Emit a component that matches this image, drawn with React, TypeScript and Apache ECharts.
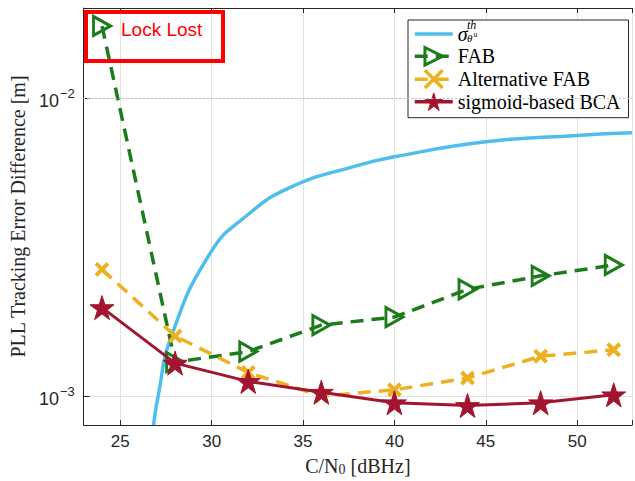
import React, { useEffect, useRef } from 'react';
import * as echarts from 'echarts';

// ---- data ----
const cn0 = [24, 28, 32, 36, 40, 44, 48, 52];
const fabValues = [0.0174, 0.0013, 0.00141, 0.00173, 0.00184, 0.00228, 0.00253, 0.00275];
const altFabValues = [0.00266, 0.00159, 0.0012, 0.001, 0.00105, 0.00115, 0.00136, 0.00143];
const bcaValues = [0.00198, 0.00129, 0.00112, 0.00103, 0.00095, 0.00093, 0.00095, 0.00101];
const sigmaCn0 = [26.82, 27.07, 27.8, 29.93, 31.86, 34.28, 38.06, 40.0, 45.0, 50.0, 53.0];
const sigmaValues = [0.0008, 0.001, 0.00159, 0.00302, 0.004, 0.005, 0.00595, 0.00634, 0.00712, 0.00748, 0.00763];
const minorGridValues = [0.0009, 0.002, 0.003, 0.004, 0.005, 0.006, 0.007, 0.008, 0.009];
const seriesNames = ['σ', 'FAB', 'Alternative FAB', 'sigmoid-based BCA'];
const xAxisTitle = 'C/N';
const yAxisTitle = 'PLL Tracking Error Difference [m]';
const annotationText = 'Lock Lost';

const BLUE = '#4DBEEE';
const GREEN = '#1C7C1C';
const YELLOW = '#EDB120';
const RED = '#A2142F';
const AXIS = '#262626';

const STAR = 'path://M50,0 L61.2,34.5 L97.6,34.5 L68.2,55.9 L79.4,90.5 L50,69.1 L20.6,90.5 L31.8,55.9 L2.4,34.5 L38.8,34.5 Z';
const TRI = 'path://M0,0 L18,10 L0,20 Z';
const CROSS = 'path://M0,0 L10,10 M10,0 L0,10';

function isPow10(v: number) {
  const l = Math.log10(v);
  return Math.abs(l - Math.round(l)) < 1e-6;
}

export default function App() {
  const ref = useRef<HTMLDivElement>(null);
  useEffect(() => {
    if (!ref.current) return;
    const chart = echarts.init(ref.current, undefined, { renderer: 'svg' });
    const option: any = {
      animation: false,
      grid: { left: 81, top: 8, width: 557, height: 417 },
      xAxis: [
        {
          type: 'value', min: 23, max: 53, splitNumber: 6, position: 'bottom',
          axisLine: { onZero: false, lineStyle: { color: AXIS, width: 1 } },
          axisTick: { inside: true, length: 5, lineStyle: { color: AXIS } },
          axisLabel: {
            formatter: (v: number) => (v % 5 === 0 ? String(v) : ''),
            fontFamily: 'Liberation Sans', fontSize: 17, color: AXIS, margin: 8,
          },
          splitLine: { show: true, lineStyle: { color: '#e2e2e2', width: 1 } },
          name: `{a|${xAxisTitle}}{s|0}{a| [dBHz]}`,
          nameLocation: 'middle', nameGap: 30,
          nameTextStyle: {
            rich: {
              a: { fontFamily: 'Liberation Serif', fontSize: 20, color: AXIS },
              s: { fontFamily: 'Liberation Serif', fontSize: 14, color: AXIS, padding: [7, 0, 0, 0] },
            },
          },
        },
        {
          type: 'value', min: 23, max: 53, splitNumber: 6, position: 'top',
          axisLine: { onZero: false, lineStyle: { color: AXIS, width: 1 } },
          axisTick: { inside: true, length: 5, lineStyle: { color: AXIS } },
          axisLabel: { show: false },
          splitLine: { show: false },
        },
      ],
      yAxis: {
        type: 'log', logBase: 10, min: 0.0008, max: 0.02,
        axisLine: { show: true, onZero: false, lineStyle: { color: AXIS, width: 1 } },
        axisTick: { inside: true, length: 6, lineStyle: { color: AXIS } },
        axisLabel: {
          formatter: (v: number) => (isPow10(v) ? `{b|10}{s|−${Math.round(-Math.log10(v))}}` : ''),
          margin: 9,
          rich: {
            b: { fontFamily: 'Liberation Sans', fontSize: 18, color: AXIS, padding: [6, 0, 0, 0] },
            s: { fontFamily: 'Liberation Sans', fontSize: 13, color: AXIS, padding: [0, 0, 9, 1] },
          },
        },
        splitLine: { show: true, lineStyle: { color: '#e2e2e2', width: 1 } },
        name: yAxisTitle, nameLocation: 'middle', nameGap: 54,
        nameTextStyle: { fontFamily: 'Liberation Serif', fontSize: 20, color: AXIS },
      },
      legend: {
        data: [
          { name: seriesNames[0] },
          { name: seriesNames[1], itemStyle: { borderWidth: 3 } },
          { name: seriesNames[2], itemStyle: { borderWidth: 3.5 } },
          { name: seriesNames[3], itemStyle: { borderWidth: 1 } },
        ],
        orient: 'vertical', left: 408, top: 20,
        itemWidth: 38, itemHeight: 22, itemGap: 2,
        padding: [4, 8, 6, 5],
        backgroundColor: '#fff', borderColor: AXIS, borderWidth: 1,
        selectedMode: false,
        lineStyle: { width: 3.5 },
        textStyle: {
          fontFamily: 'Liberation Serif', fontSize: 20, color: '#000', lineHeight: 20,
          rich: { sig: { fontFamily: 'Liberation Serif', fontStyle: 'italic', fontSize: 20, color: '#000' } },
        },
        formatter: (n: string) => (n === 'σ' ? '{sig|σ}' : n),
      },
      graphic: [
        { type: 'rect', shape: { x: 86, y: 12, width: 137, height: 49 }, style: { fill: 'none', stroke: '#ff0000', lineWidth: 4 }, z: 1 },
        { type: 'text', x: 121, y: 29, style: { text: annotationText, fill: '#ff0000', fontFamily: 'Liberation Sans', fontSize: 19, verticalAlign: 'middle' }, z: 1 },
        { type: 'text', x: 467, y: 24.5, style: { text: 'th', fill: '#000', fontFamily: 'Liberation Serif', fontStyle: 'italic', fontSize: 12, verticalAlign: 'middle' }, z: 100 },
        { type: 'text', x: 467, y: 37.5, style: { text: 'θ', fill: '#000', fontFamily: 'Liberation Serif', fontStyle: 'italic', fontSize: 11, verticalAlign: 'middle' }, z: 100 },
        { type: 'text', x: 473.5, y: 34.5, style: { text: 'u', fill: '#000', fontFamily: 'Liberation Serif', fontStyle: 'italic', fontSize: 8, verticalAlign: 'middle' }, z: 100 },
      ],
      series: [
        {
          name: seriesNames[0], type: 'line',
          data: sigmaCn0.map((x, i) => [x, sigmaValues[i]]),
          showSymbol: false, symbol: 'circle',
          smooth: 0.5,
          itemStyle: { color: 'rgba(0,0,0,0)', borderColor: 'rgba(0,0,0,0)' },
          lineStyle: { color: BLUE, width: 3.5 },
          markLine: {
            silent: true, symbol: ['none', 'none'], label: { show: false },
            lineStyle: { color: '#bdbdbd', width: 1, type: [1, 3] },
            data: minorGridValues.map((v) => ({ yAxis: v })),
          },
          z: 2,
        },
        {
          name: seriesNames[1], type: 'line',
          data: cn0.map((x, i) => [x, fabValues[i]]),
          symbol: TRI, symbolSize: [17, 19],
          itemStyle: { color: 'rgba(0,0,0,0)', borderColor: GREEN, borderWidth: 3 },
          lineStyle: { color: GREEN, width: 3.5, type: [13, 8] },
          z: 3,
        },
        {
          name: seriesNames[2], type: 'line',
          data: cn0.map((x, i) => [x, altFabValues[i]]),
          symbol: CROSS, symbolSize: 12,
          itemStyle: { color: YELLOW, borderColor: YELLOW, borderWidth: 4 },
          lineStyle: { color: YELLOW, width: 3.5, type: [13, 8] },
          z: 4,
        },
        {
          name: seriesNames[3], type: 'line',
          data: cn0.map((x, i) => [x, bcaValues[i]]),
          symbol: STAR, symbolSize: 24,
          itemStyle: { color: RED, borderColor: RED, borderWidth: 1 },
          lineStyle: { color: RED, width: 3 },
          z: 5,
        },
      ],
    };
    chart.setOption(option);
    return () => chart.dispose();
  }, []);
  return (
    <div
      ref={ref}
      style={{ position: 'fixed', left: 0, top: 0, width: 635, height: 481, background: '#fff', overflow: 'hidden' }}
    />
  );
}
